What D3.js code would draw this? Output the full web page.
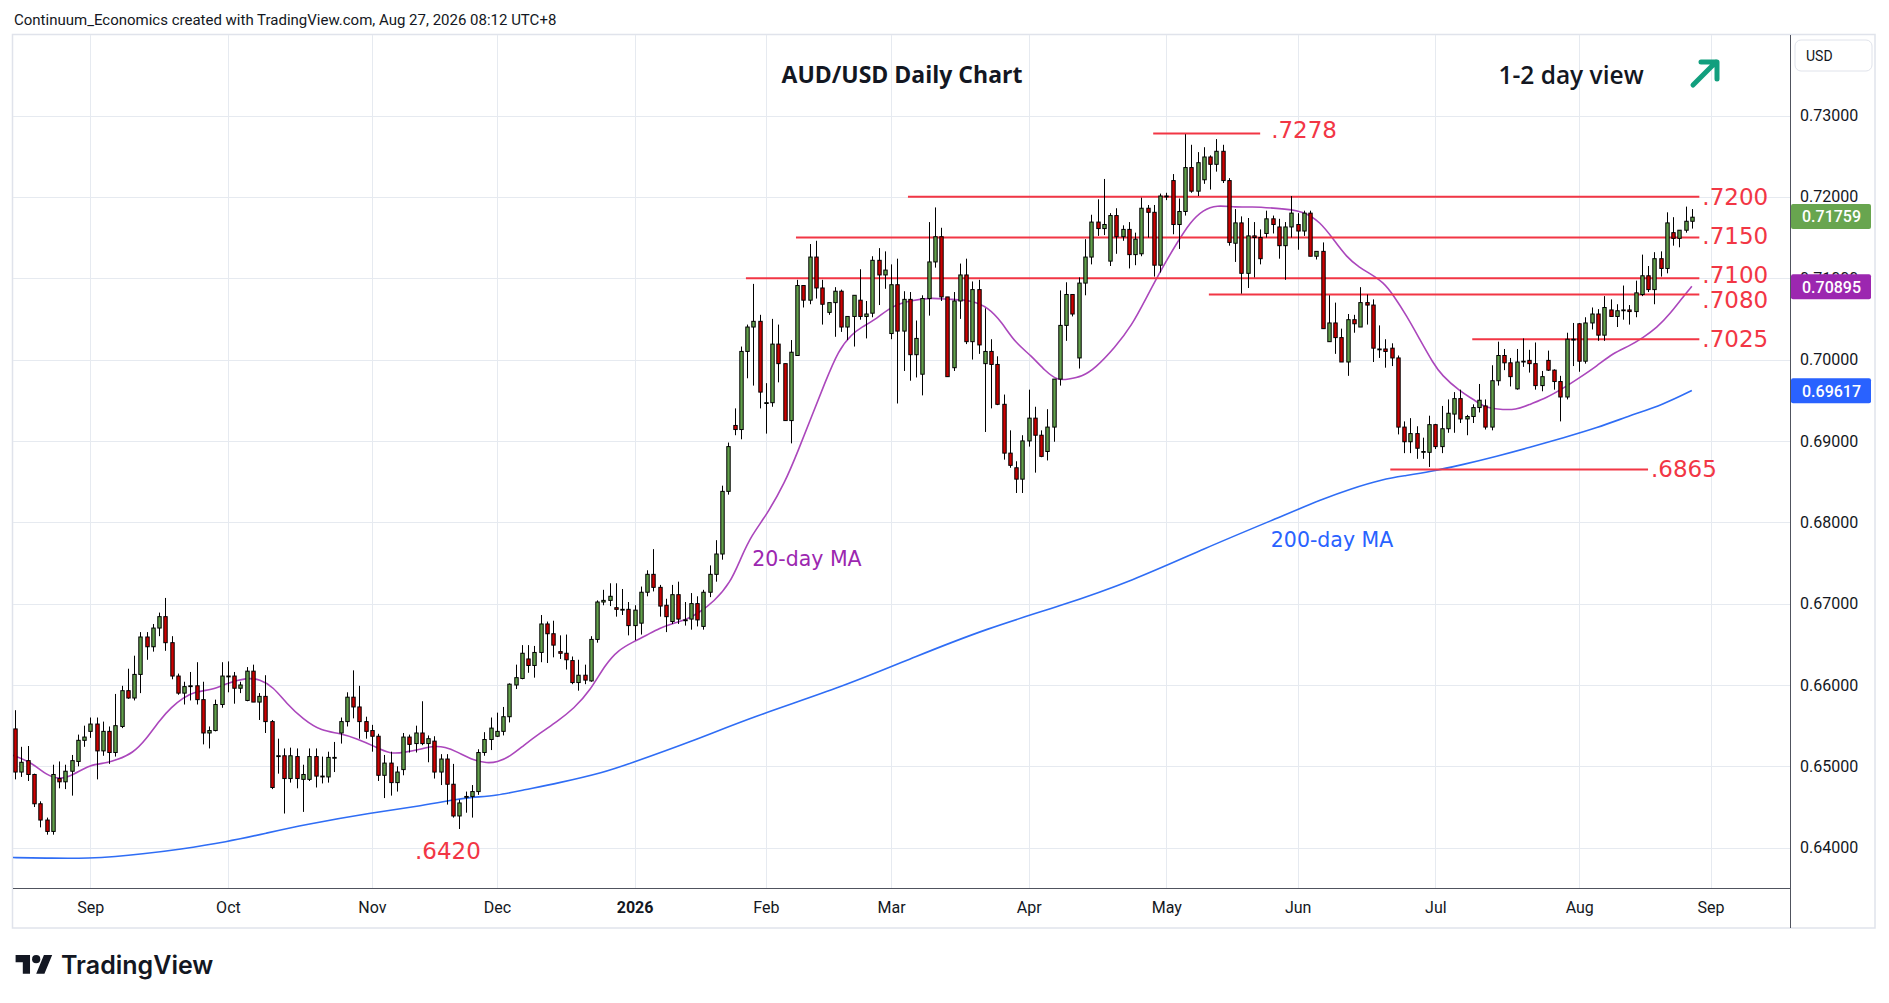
<!DOCTYPE html>
<html>
<head>
<meta charset="utf-8">
<script src="https://cdn.jsdelivr.net/npm/d3@7/dist/d3.min.js"></script>
<style>
html,body{margin:0;padding:0;background:#ffffff;}
svg{display:block;}
</style>
</head>
<body>
<svg id="chart" width="1889" height="1003"></svg>
<script>
// ---------------- DATA ----------------
const firstDay = "2025-08-14";
const marketHolidays = ["2025-12-25", "2026-01-01"];
const monthNames = ["Jan","Feb","Mar","Apr","May","Jun","Jul","Aug","Sep","Oct","Nov","Dec"];

const openPx = [
 .6546,.6493,.6507,.6490,.6454,.6434,.6420,.6485,.6481,.6494,.6506,.6532,
 .6543,.6552,.6519,.6543,.6517,.6549,.6593,.6584,.6613,.6659,.6647,.6670,.6684,.6652,.6611,.6590,.6598,.6599,.6582,.6541,.6544,.6576,
 .6611,.6611,.6596,.6581,.6617,.6579,.6586,.6555,.6512,.6513,.6485,.6512,.6484,.6484,.6512,.6488,.6487,.6510,.6541,.6555,.6585,.6573,.6555,
 .6544,.6537,.6489,.6504,.6480,.6496,.6536,.6528,.6541,.6528,.6531,.6493,.6509,.6478,.6439,.6462,.6463,.6469,.6517,.6533,
 .6537,.6543,.6561,.6600,.6608,.6632,.6624,.6640,.6675,.6663,.6641,.6639,.6630,.6603,.6612,.6605,.6656,.6702,.6704,.6695,.6693,.6693,
 .6673,.6676,.6714,.6736,.6720,.6698,.6678,.6711,.6680,.6681,.6700,.6672,.6714,.6736,.6761,.6838,.6919,.6914,.7010,.7040,.7047,
 .6947,.6947,.7019,.6995,.6925,.7005,.7091,.7073,.7126,.7088,.7058,.7070,.7084,.7040,.7053,.7073,.7053,.7057,.7122,.7104,
 .7032,.7092,.7035,.7074,.7006,.6982,.7075,.7120,.7151,.7077,.6990,.7072,.7104,.7022,.7086,.6995,.7010,.6994,.6945,.6885,.6867,.6853,
 .6900,.6928,.6907,.6887,.6917,.6976,.7042,.7080,.7002,.7094,.7126,.7169,.7161,.7121,.7177,.7151,.7160,.7129,.7130,.7186,.7181,.7116,
 .7201,.7220,.7166,.7182,.7236,.7207,.7221,.7249,.7240,.7256,.7220,.7143,.7168,.7106,.7152,.7150,.7155,.7173,.7163,.7140,.7163,
 .7166,.7158,.7180,.7127,.7133,.7022,.7045,.7027,.6997,.7049,.7040,.7070,.7067,.7013,.7013,.7014,.7002,.6917,.6899,.6909,.6887,.6886,
 .6920,.6893,.6915,.6933,.6952,.6927,.6930,.6941,.6943,.6917,.6974,.7005,.6996,.6964,.6997,.6999,.6995,.6968,.6999,.6987,.6973,.6954,.7025,
 .7044,.6998,.7045,.7056,.7030,.7061,.7053,.7061,.7061,.7059,.7080,.7103,.7086,.7124,.7112,.7156,.7149,.7159,.7170
];
const highPx = [
 .6569,.6524,.6525,.6491,.6457,.6437,.6502,.6506,.6502,.6514,.6539,.6550,
 .6560,.6560,.6555,.6549,.6589,.6599,.6620,.6636,.6665,.6665,.6675,.6689,.6707,.6660,.6614,.6604,.6616,.6628,.6604,.6549,.6582,.6628,
 .6629,.6616,.6604,.6622,.6625,.6590,.6612,.6557,.6534,.6522,.6523,.6522,.6502,.6522,.6522,.6512,.6518,.6530,.6560,.6591,.6618,.6599,.6561,
 .6551,.6540,.6514,.6518,.6500,.6541,.6539,.6550,.6580,.6538,.6537,.6515,.6515,.6503,.6459,.6469,.6477,.6521,.6542,.6560,
 .6566,.6573,.6602,.6625,.6649,.6649,.6648,.6686,.6678,.6679,.6661,.6662,.6635,.6631,.6625,.6660,.6704,.6717,.6725,.6725,.6718,.6702,
 .6698,.6721,.6741,.6767,.6723,.6706,.6723,.6727,.6702,.6713,.6709,.6717,.6747,.6778,.6845,.6898,.6940,.7016,.7043,.7093,.7055,
 .6971,.7050,.7043,.6995,.7024,.7098,.7091,.7142,.7146,.7098,.7070,.7089,.7086,.7053,.7079,.7111,.7072,.7127,.7137,.7133,
 .7117,.7124,.7084,.7083,.7048,.7079,.7169,.7187,.7162,.7077,.7083,.7118,.7124,.7096,.7098,.7063,.7025,.7004,.6957,.6913,.6875,.6907,
 .6963,.6942,.6913,.6939,.6976,.7085,.7095,.7080,.7101,.7148,.7178,.7197,.7222,.7180,.7186,.7165,.7169,.7156,.7199,.7190,.7190,.7204,
 .7205,.7228,.7198,.7277,.7264,.7255,.7261,.7251,.7271,.7264,.7223,.7185,.7176,.7174,.7169,.7160,.7183,.7177,.7173,.7169,.7201,
 .7180,.7183,.7183,.7133,.7144,.7079,.7070,.7038,.7056,.7055,.7089,.7080,.7074,.7042,.7025,.7020,.7005,.6924,.6928,.6918,.6904,.6931,
 .6921,.6943,.6951,.6960,.6963,.6932,.6945,.6970,.6951,.6993,.7022,.7013,.7002,.7013,.7026,.7012,.7021,.6986,.7011,.6988,.6980,.7033,.7045,
 .7045,.7052,.7064,.7062,.7078,.7074,.7068,.7091,.7067,.7097,.7129,.7115,.7132,.7133,.7181,.7175,.7159,.7188,.7185
];
const lowPx = [
 .6484,.6487,.6482,.6450,.6425,.6416,.6416,.6473,.6472,.6464,.6500,.6524,
 .6535,.6484,.6513,.6503,.6512,.6547,.6583,.6581,.6590,.6631,.6641,.6660,.6642,.6607,.6588,.6576,.6581,.6576,.6527,.6522,.6543,.6572,
 .6591,.6577,.6590,.6580,.6579,.6557,.6541,.6472,.6491,.6442,.6480,.6473,.6444,.6482,.6474,.6479,.6480,.6493,.6528,.6549,.6559,.6534,.6534,
 .6518,.6482,.6461,.6464,.6469,.6489,.6517,.6517,.6526,.6505,.6485,.6477,.6453,.6437,.6423,.6443,.6437,.6465,.6513,.6520,
 .6536,.6538,.6554,.6595,.6607,.6615,.6609,.6628,.6627,.6634,.6632,.6619,.6601,.6593,.6601,.6604,.6652,.6698,.6697,.6684,.6686,.6661,
 .6655,.6662,.6709,.6715,.6684,.6665,.6675,.6675,.6673,.6668,.6672,.6668,.6708,.6727,.6754,.6834,.6907,.6902,.6977,.6968,.6940,
 .6909,.6942,.6972,.6925,.6897,.7005,.7064,.7068,.7075,.7043,.7055,.7028,.7034,.7024,.7016,.7049,.7026,.7052,.7067,.7087,
 .7025,.6946,.6986,.6974,.6978,.6956,.7054,.7113,.7072,.6979,.6986,.7050,.7019,.7000,.7007,.6911,.6940,.6944,.6877,.6867,.6836,.6836,
 .6893,.6861,.6880,.6876,.6899,.6968,.7023,.7053,.6989,.7079,.7117,.7152,.7153,.7115,.7130,.7146,.7112,.7116,.7127,.7150,.7102,.7107,
 .7196,.7154,.7136,.7177,.7205,.7201,.7216,.7209,.7231,.7217,.7140,.7120,.7081,.7088,.7101,.7117,.7150,.7155,.7124,.7098,.7150,
 .7135,.7152,.7127,.7123,.7038,.7022,.7007,.6997,.6980,.7033,.7040,.7043,.6997,.7002,.6990,.6992,.6908,.6885,.6885,.6878,.6878,.6868,
 .6890,.6885,.6910,.6910,.6922,.6907,.6922,.6935,.6914,.6913,.6968,.6987,.6967,.6963,.6991,.6984,.6963,.6961,.6986,.6963,.6924,.6951,.6992,
 .6985,.6995,.7037,.7023,.7023,.7053,.7040,.7049,.7043,.7052,.7078,.7083,.7068,.7102,.7106,.7140,.7138,.7156,.7161
];
const closePx = [
 .6493,.6505,.6490,.6454,.6434,.6420,.6490,.6481,.6494,.6507,.6532,.6536,
 .6552,.6519,.6543,.6517,.6550,.6593,.6584,.6613,.6659,.6647,.6670,.6684,.6652,.6611,.6590,.6598,.6599,.6582,.6541,.6544,.6576,.6611,
 .6611,.6596,.6600,.6617,.6579,.6586,.6555,.6474,.6513,.6485,.6513,.6485,.6490,.6512,.6488,.6487,.6511,.6511,.6555,.6585,.6573,.6555,.6543,
 .6537,.6489,.6504,.6480,.6493,.6536,.6527,.6541,.6528,.6534,.6493,.6509,.6478,.6439,.6455,.6463,.6469,.6517,.6533,.6547,
 .6543,.6561,.6601,.6609,.6639,.6624,.6640,.6675,.6663,.6649,.6639,.6631,.6603,.6612,.6606,.6656,.6702,.6704,.6709,.6693,.6693,.6673,
 .6692,.6714,.6736,.6720,.6697,.6684,.6711,.6681,.6680,.6700,.6680,.6714,.6736,.6761,.6838,.6893,.6914,.7010,.7040,.7047,.6960,
 .6947,.7019,.6995,.6925,.7009,.7091,.7073,.7126,.7088,.7068,.7070,.7084,.7040,.7053,.7079,.7053,.7056,.7122,.7104,.7110,
 .7092,.7035,.7074,.7006,.7026,.7075,.7120,.7151,.7077,.6979,.7072,.7104,.7022,.7086,.7018,.7010,.6994,.6945,.6885,.6870,.6853,.6900,
 .6928,.6907,.6881,.6917,.6976,.7042,.7080,.7056,.7094,.7126,.7169,.7161,.7166,.7177,.7151,.7160,.7129,.7148,.7186,.7181,.7116,.7201,
 .7201,.7166,.7182,.7236,.7207,.7242,.7249,.7240,.7256,.7220,.7144,.7168,.7106,.7152,.7150,.7124,.7173,.7166,.7140,.7163,.7180,
 .7158,.7180,.7127,.7133,.7038,.7045,.7027,.6997,.7049,.7044,.7070,.7067,.7014,.7013,.7010,.7002,.6917,.6899,.6909,.6891,.6887,.6920,
 .6893,.6915,.6934,.6952,.6927,.6930,.6941,.6950,.6917,.6974,.7005,.6996,.6979,.6997,.6998,.6995,.6968,.6979,.6987,.6973,.6954,.7025,.7025,
 .6998,.7045,.7056,.7030,.7064,.7053,.7060,.7061,.7059,.7082,.7103,.7086,.7124,.7112,.7168,.7149,.7159,.7170,.7175
];

// 20-day and 200-day moving averages: [bar number, value]
const ma20 = [
 [-0.5,.6514],[2.8,.6504],[5,.6489],[7.1,.6484],[9.2,.6489],[11.9,.6502],[14.6,.6504],[16.2,.6508],[18.8,.6516],[21,.6534],
 [23.1,.6557],[25,.6573],[26.8,.6584],[28.7,.6592],[31.6,.6594],[33.8,.6602],[37,.6609],[39.1,.6607],[41.2,.6598],[43.4,.6577],
 [46,.6558],[49,.6543],[51.9,.6541],[54.6,.6534],[57.3,.6525],[59.9,.6515],[62.1,.6517],[65.3,.6522],[66.9,.6525],[68.7,.6524],
 [70.6,.6518],[73.3,.6507],[75.4,.6504],[77,.6505],[79.1,.6512],[81.3,.6526],[83.9,.6541],[86.6,.6555],[89.3,.6571],[91.9,.6593],
 [94.3,.6625],[96.4,.6643],[98.8,.6653],[100.9,.6661],[103,.6670],[105.2,.6676],[107.3,.6680],[109.5,.6690],[111.6,.6702],[114.3,.6725],
 [116.1,.6758],[117.7,.6784],[120.1,.6809],[123,.6848],[125.2,.6889],[127.3,.6930],[129.4,.6971],[131.6,.7012],[133.7,.7031],[135.3,.7040],
 [137.7,.7050],[140.1,.7066],[143.3,.7073],[146.5,.7076],[149.1,.7074],[152.9,.7073],[155.5,.7064],[157.7,.7046],[159.8,.7021],[162.4,.7005],
 [164.6,.6986],[166.7,.6974],[168.3,.6976],[170.5,.6979],[172.6,.6989],[175.8,.7015],[178.5,.7042],[180.8,.7076],[183.5,.7115],[185.6,.7142],
 [187.8,.7169],[189.9,.7184],[192,.7190],[195.2,.7187],[197.4,.7188],[201.6,.7186],[205.9,.7183],[208.6,.7169],[210.7,.7148],[212.8,.7126],
 [214.9,.7113],[216.5,.7106],[218.7,.7095],[220.3,.7079],[222.4,.7054],[224.5,.7025],[226.7,.6995],[228,.6981],[230.9,.6961],[233.1,.6951],
 [234.7,.6942],[236.8,.6939],[240,.6938],[242.1,.6945],[244.8,.6953],[247.5,.6965],[250.1,.6978],[252.8,.6992],[255.4,.7008],[258.1,.7017],
 [260.2,.7027],[262.4,.7039],[264.5,.7056],[266.7,.7078],[268,.7090]
];
const ma200 = [
 [-1,.6388],[6,.6387],[12,.6387],[16,.6389],[20,.6392],[26.3,.6398],[33.8,.6407],[40.2,.6418],[46,.6428],[57,.6443],
 [65.3,.6452],[70.1,.6459],[72.8,.6462],[77,.6464],[81.2,.6471],[86.6,.6479],[94.3,.6493],[97.7,.6502],[108.3,.6531],[117.9,.6561],
 [132.4,.6598],[143.9,.6635],[155.5,.6670],[167,.6697],[178.6,.6728],[190.1,.6768],[201.7,.6805],[209.1,.6829],[213.4,.6841],[218.7,.6853],
 [221.9,.6857],[226.1,.6862],[231.5,.6871],[236.8,.6881],[242.1,.6892],[247.5,.6904],[252.8,.6916],[258.1,.6931],[263.5,.6945],[268,.6962]
];

const priceTicks = [0.64,0.65,0.66,0.67,0.68,0.69,0.70,0.71,0.72,0.73];
// horizontal levels: price, label, first bar, last bar
const levelPrices = [0.7278, 0.7200, 0.7150, 0.7100, 0.7080, 0.7025, 0.6865];
const levelTexts  = [".7278", ".7200", ".7150", ".7100", ".7080", ".7025", ".6865"];
const levelFrom   = [181.9, 142.7, 124.8, 116.8, 190.8, 232.9, 219.8];
const levelTo     = [199.0, 269.2, 269.2, 269.2, 269.2, 269.2, 261.0];
const lowLabel = {text: ".6420", bar: 63.9, price: 0.6396};
const maLabels = [
  {text: "20-day MA", bar: 117.8, price: 0.6755, cls: "ma20"},
  {text: "200-day MA", bar: 200.7, price: 0.6778, cls: "ma200"}
];
const lastClose = 0.71759, lastMa20 = 0.70895, lastMa200 = 0.69617;

// ---------------- LAYOUT ----------------
const W = 1889, H = 1003;
const plot = {left: 13, right: 1790, top: 35, bottom: 888};
const frameRight = 1875, frameBottom = 928;
const COL = {
  up: "#62a04b", down: "#cc0000", red: "#f23645", ma20: "#ab47bc", ma200: "#2f6df5",
  grid: "#e6eaf0", text: "#131722", axisLine: "#50535e", frame: "#e0e3eb", arrow: "#129f7e"
};

// trading days (weekdays without the two market holidays)
function tradingDays(start, n, skip) {
  const out = [];
  const d = new Date(start + "T00:00:00Z");
  while (out.length < n) {
    const wd = d.getUTCDay();
    const s = d.toISOString().slice(0, 10);
    if (wd !== 0 && wd !== 6 && !skip.includes(s)) out.push(s);
    d.setUTCDate(d.getUTCDate() + 1);
  }
  return out;
}
const nBars = closePx.length;
const days = tradingDays(firstDay, nBars + 3, marketHolidays); // +3 reaches the next month start
const bars = d3.range(nBars).map(i => ({i, date: days[i], o: openPx[i], h: highPx[i], l: lowPx[i], c: closePx[i]}));

const x = d3.scaleLinear().domain([0, 271]).range([15.23, 1710.6]);
const y = d3.scaleLinear().domain([0.64, 0.73]).range([847.7, 115.5]);

// month ticks
const monthTicks = [];
for (let i = 1; i < days.length; i++) {
  if (days[i].slice(5, 7) !== days[i - 1].slice(5, 7)) monthTicks.push(i);
}

const svg = d3.select("#chart").attr("viewBox", `0 0 ${W} ${H}`);
svg.append("rect").attr("width", W).attr("height", H).attr("fill", "#fff");

svg.append("defs").append("clipPath").attr("id", "plotClip")
  .append("rect").attr("x", plot.left).attr("y", plot.top)
  .attr("width", plot.right - plot.left).attr("height", plot.bottom - plot.top);

// header
svg.append("text").attr("x", 14).attr("y", 20).attr("dominant-baseline", "central")
  .attr("font-family", "Roboto, 'Noto Sans', sans-serif").attr("font-size", 15)
  .attr("fill", COL.text)
  .text("Continuum_Economics created with TradingView.com, Aug 27, 2026 08:12 UTC+8");

// frame
svg.append("rect").attr("x", 12.5).attr("y", plot.top - 0.5)
  .attr("width", frameRight - 12.5).attr("height", frameBottom - plot.top + 0.5)
  .attr("fill", "none").attr("stroke", COL.frame).attr("stroke-width", 1.5);

// grid
const grid = svg.append("g").attr("clip-path", "url(#plotClip)");
grid.selectAll("line.h").data(priceTicks).join("line")
  .attr("x1", plot.left).attr("x2", plot.right)
  .attr("y1", d => Math.round(y(d)) + 0.5).attr("y2", d => Math.round(y(d)) + 0.5)
  .attr("stroke", COL.grid).attr("stroke-width", 1);
grid.selectAll("line.v").data(monthTicks).join("line")
  .attr("y1", plot.top).attr("y2", plot.bottom)
  .attr("x1", d => Math.round(x(d)) + 0.5).attr("x2", d => Math.round(x(d)) + 0.5)
  .attr("stroke", COL.grid).attr("stroke-width", 1);

const chartG = svg.append("g").attr("clip-path", "url(#plotClip)");

// moving averages (bar numbers are absolute indices into the bar list)
const maLine = d3.line().x(d => x(d[0])).y(d => y(d[1])).curve(d3.curveBasis);
chartG.append("path").attr("d", maLine(ma200)).attr("fill", "none")
  .attr("stroke", COL.ma200).attr("stroke-width", 1.6);
chartG.append("path").attr("d", maLine(ma20)).attr("fill", "none")
  .attr("stroke", COL.ma20).attr("stroke-width", 1.6);

// level lines
levelPrices.forEach((p, k) => {
  chartG.append("line")
    .attr("x1", x(levelFrom[k])).attr("x2", x(levelTo[k]))
    .attr("y1", y(p)).attr("y2", y(p))
    .attr("stroke", COL.red).attr("stroke-width", 2);
});

// candles
const bodyW = 3.4;
const cg = chartG.append("g");
cg.selectAll("line.wick").data(bars).join("line")
  .attr("x1", d => Math.round(x(d.i)) + 0.5).attr("x2", d => Math.round(x(d.i)) + 0.5)
  .attr("y1", d => y(Math.max(d.h, d.o, d.c))).attr("y2", d => y(Math.min(d.l, d.o, d.c)))
  .attr("stroke", "#000").attr("stroke-width", 1);
cg.selectAll("rect.body").data(bars).join("rect")
  .attr("x", d => Math.round(x(d.i)) + 0.5 - bodyW / 2)
  .attr("y", d => y(Math.max(d.o, d.c)))
  .attr("width", bodyW)
  .attr("height", d => Math.max(0.8, Math.abs(y(d.o) - y(d.c))))
  .attr("fill", d => d.c >= d.o ? COL.up : COL.down)
  .attr("stroke", "#000").attr("stroke-width", 1);

// level labels
const lvlFont = "'DejaVu Sans', Verdana, sans-serif";
const lvlDy = [-3, 0, -2, -3, 6, 0, 0];
levelPrices.forEach((p, k) => {
  const tx = k === 0 ? x(levelTo[k]) + 11 : x(levelTo[k]) + 3;
  svg.append("text").attr("x", tx).attr("y", y(p) + lvlDy[k])
    .attr("dominant-baseline", "central")
    .attr("font-family", lvlFont).attr("font-size", 23)
    .attr("fill", COL.red).text(levelTexts[k]);
});
svg.append("text").attr("x", x(lowLabel.bar)).attr("y", y(lowLabel.price))
  .attr("dominant-baseline", "central")
  .attr("font-family", lvlFont).attr("font-size", 23)
  .attr("fill", COL.red).text(lowLabel.text);
maLabels.forEach(m => {
  svg.append("text").attr("x", x(m.bar)).attr("y", y(m.price))
    .attr("dominant-baseline", "central")
    .attr("font-family", lvlFont).attr("font-size", 20.5)
    .attr("fill", m.cls === "ma20" ? "#9c27b0" : "#2962ff").text(m.text);
});

// title and view
svg.append("text").attr("x", 902).attr("y", 74).attr("text-anchor", "middle")
  .attr("dominant-baseline", "central")
  .attr("font-family", "'Open Sans', Roboto, sans-serif").attr("font-weight", 700)
  .attr("font-size", 23).attr("fill", COL.text).text("AUD/USD Daily Chart");
svg.append("text").attr("x", 1571).attr("y", 74).attr("text-anchor", "middle")
  .attr("dominant-baseline", "central")
  .attr("font-family", "'Open Sans', Roboto, sans-serif").attr("font-weight", 600)
  .attr("font-size", 24.5).attr("fill", COL.text).text("1-2 day view");
// up arrow
svg.append("path")
  .attr("d", "M1693,85 L1716,62 M1701,62 L1717,62 L1717,79")
  .attr("fill", "none").attr("stroke", COL.arrow).attr("stroke-width", 5)
  .attr("stroke-linecap", "round").attr("stroke-linejoin", "round");

// axes separators
svg.append("line").attr("x1", plot.right + 0.5).attr("x2", plot.right + 0.5)
  .attr("y1", plot.top).attr("y2", frameBottom).attr("stroke", COL.axisLine).attr("stroke-width", 1);
svg.append("line").attr("x1", plot.left).attr("x2", plot.right)
  .attr("y1", plot.bottom + 0.5).attr("y2", plot.bottom + 0.5).attr("stroke", COL.axisLine).attr("stroke-width", 1);

// price axis
const yAxis = d3.axisRight(y).tickValues(priceTicks).tickFormat(d3.format(".5f")).tickSize(0).tickPadding(10);
const yAx = svg.append("g").attr("transform", `translate(${plot.right},0)`).call(yAxis);
yAx.select(".domain").remove();
yAx.selectAll("text").attr("font-family", "Roboto, sans-serif").attr("font-size", 16).attr("fill", COL.text);

// time axis
const xAxis = d3.axisBottom(x).tickValues(monthTicks).tickSize(0).tickPadding(14)
  .tickFormat(i => { const m = +days[i].slice(5, 7); return m === 1 ? days[i].slice(0, 4) : monthNames[m - 1]; });
const xAx = svg.append("g").attr("transform", `translate(0,${plot.bottom})`).call(xAxis);
xAx.select(".domain").remove();
xAx.selectAll("text").attr("font-family", "Roboto, sans-serif").attr("font-size", 16).attr("fill", COL.text)
  .attr("font-weight", i => days[i].slice(5, 7) === "01" ? 700 : 400);

// USD box
svg.append("rect").attr("x", 1795).attr("y", 40).attr("width", 77).attr("height", 31).attr("rx", 6)
  .attr("fill", "#fff").attr("stroke", "#e0e3eb");
svg.append("text").attr("x", 1806).attr("y", 56).attr("dominant-baseline", "central")
  .attr("font-family", "Roboto, sans-serif").attr("font-size", 14).attr("fill", COL.text).text("USD");

// price tags (drawn over the axis labels, as in the reference)
[[lastClose, "#68a54f"], [lastMa20, "#9c27b0"], [lastMa200, "#2962ff"]].forEach(([v, c]) => {
  svg.append("rect").attr("x", plot.right + 1).attr("y", y(v) - 12.5).attr("width", 80).attr("height", 25)
    .attr("rx", 2).attr("fill", c);
  svg.append("text").attr("x", plot.right + 12).attr("y", y(v) + 0.5).attr("dominant-baseline", "central")
    .attr("font-family", "Roboto, sans-serif").attr("font-size", 16).attr("font-weight", 500)
    .attr("fill", "#fff").text(d3.format(".5f")(v));
});

// TradingView logo
const logo = svg.append("g").attr("transform", "translate(15.6,951) scale(1.03)");
logo.append("path").attr("d", "M14 22H7V11H0V4h14v18zM28 22h-8l7.5-18h8L28 22z").attr("fill", "#131722");
logo.append("circle").attr("cx", 20).attr("cy", 8).attr("r", 4).attr("fill", "#131722");
svg.append("text").attr("x", 61).attr("y", 974)
  .attr("font-family", "Inter, Roboto, sans-serif").attr("font-weight", 600).attr("font-size", 25)
  .attr("fill", "#131722").text("TradingView");
</script>
</body>
</html>
